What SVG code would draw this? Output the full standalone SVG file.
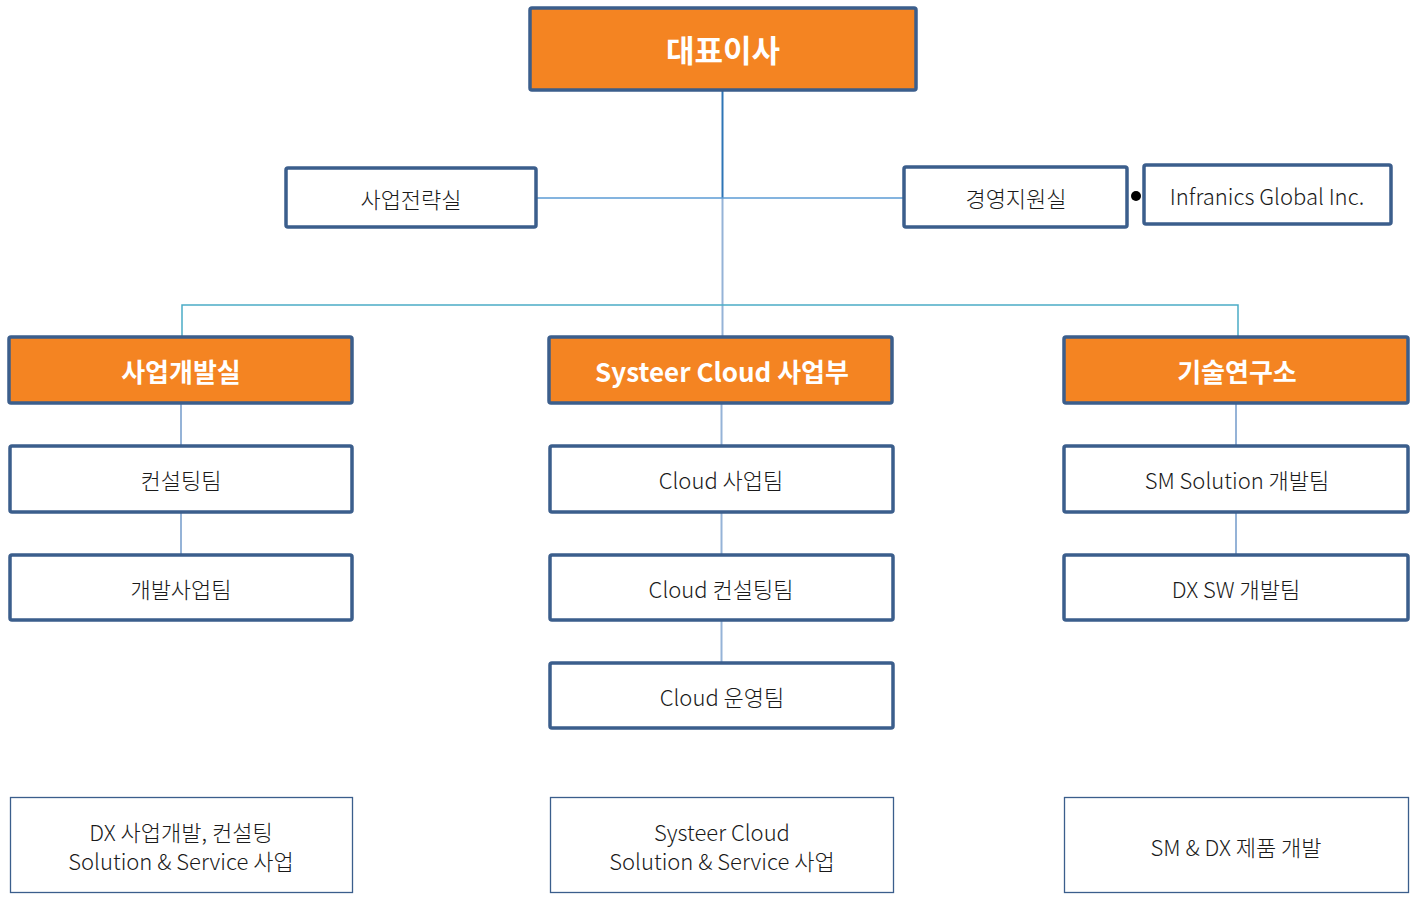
<svg xmlns="http://www.w3.org/2000/svg" width="1416" height="913" viewBox="0 0 1416 913">
<style>
.box{fill:#fff;stroke:#3B5E8C;stroke-width:3.5}
.hd{fill:#F48422;stroke:#3B5E8C;stroke-width:3.5}
.thin{fill:#fff;stroke:#3B5E8C;stroke-width:1.3}
text{font-family:"Noto Sans CJK KR","Noto Sans",sans-serif;text-anchor:middle;dominant-baseline:central;fill:#1a1a1a;font-size:22px;font-weight:300}
.ht{fill:#fff;font-weight:bold;font-size:26px}
.t1{font-size:31px}
</style>
<rect width="1416" height="913" fill="#fff"/>
<g id="connectors" fill="none">
<line x1="722.5" y1="91" x2="722.5" y2="198" stroke="#2E75B6" stroke-width="2"/>
<line x1="722.5" y1="198" x2="722.5" y2="336" stroke="#95B3D7" stroke-width="2"/>
<line x1="537" y1="198" x2="903" y2="198" stroke="#5B9BD5" stroke-width="1.5"/>
<polyline points="182,336 182,305 1238,305 1238,336" stroke="#4BACC6" stroke-width="1.5"/>
<line x1="181" y1="404" x2="181" y2="445" stroke="#95B3D7" stroke-width="2"/>
<line x1="181" y1="513" x2="181" y2="554" stroke="#95B3D7" stroke-width="2"/>
<line x1="721.5" y1="404" x2="721.5" y2="445" stroke="#95B3D7" stroke-width="2"/>
<line x1="721.5" y1="513" x2="721.5" y2="554" stroke="#95B3D7" stroke-width="2"/>
<line x1="721.5" y1="621" x2="721.5" y2="662" stroke="#95B3D7" stroke-width="2"/>
<line x1="1236" y1="404" x2="1236" y2="445" stroke="#95B3D7" stroke-width="2"/>
<line x1="1236" y1="513" x2="1236" y2="554" stroke="#95B3D7" stroke-width="2"/>
<circle cx="1136" cy="196" r="5" fill="#000"/>
</g>
<g id="ceo"><rect class="hd" x="530" y="8" width="386" height="82" rx="2"/><text class="ht t1" x="723" y="48">대표이사</text></g>
<g id="strategy"><rect class="box" x="286" y="168" width="250" height="59" rx="2"/><text x="411" y="198">사업전략실</text></g>
<g id="management"><rect class="box" x="904" y="167" width="223" height="60" rx="2"/><text x="1016" y="197">경영지원실</text></g>
<g id="infranics"><rect class="box" x="1144" y="165" width="247" height="59" rx="2"/><text x="1267" y="195">Infranics Global Inc.</text></g>
<g id="bizdev"><rect class="hd" x="9" y="337" width="343" height="66" rx="2"/><text class="ht" x="181" y="370">사업개발실</text></g>
<g id="systeer"><rect class="hd" x="549" y="337" width="343" height="66" rx="2"/><text class="ht" x="722" y="370">Systeer Cloud 사업부</text></g>
<g id="lab"><rect class="hd" x="1064" y="337" width="344" height="66" rx="2"/><text class="ht" x="1237" y="370">기술연구소</text></g>
<g id="consulting"><rect class="box" x="10" y="446" width="342" height="66" rx="2"/><text x="181" y="479">컨설팅팀</text></g>
<g id="devbiz"><rect class="box" x="10" y="555" width="342" height="65" rx="2"/><text x="181" y="588">개발사업팀</text></g>
<g id="cloudbiz"><rect class="box" x="550" y="446" width="343" height="66" rx="2"/><text x="721" y="479">Cloud 사업팀</text></g>
<g id="cloudconsult"><rect class="box" x="550" y="555" width="343" height="65" rx="2"/><text x="721" y="588">Cloud 컨설팅팀</text></g>
<g id="cloudops"><rect class="box" x="550" y="663" width="343" height="65" rx="2"/><text x="722" y="696">Cloud 운영팀</text></g>
<g id="smsol"><rect class="box" x="1064" y="446" width="344" height="66" rx="2"/><text x="1237" y="479">SM Solution 개발팀</text></g>
<g id="dxsw"><rect class="box" x="1064" y="555" width="344" height="65" rx="2"/><text x="1236" y="588">DX SW 개발팀</text></g>
<g id="desc-left"><rect class="thin" x="10.5" y="797.5" width="342" height="95"/><text x="181" y="831">DX 사업개발, 컨설팅</text><text x="181" y="860">Solution &amp; Service 사업</text></g>
<g id="desc-mid"><rect class="thin" x="550.5" y="797.5" width="343" height="95"/><text x="722" y="831">Systeer Cloud</text><text x="722" y="860">Solution &amp; Service 사업</text></g>
<g id="desc-right"><rect class="thin" x="1064.5" y="797.5" width="344" height="95"/><text x="1236" y="846">SM &amp; DX 제품 개발</text></g>
</svg>
